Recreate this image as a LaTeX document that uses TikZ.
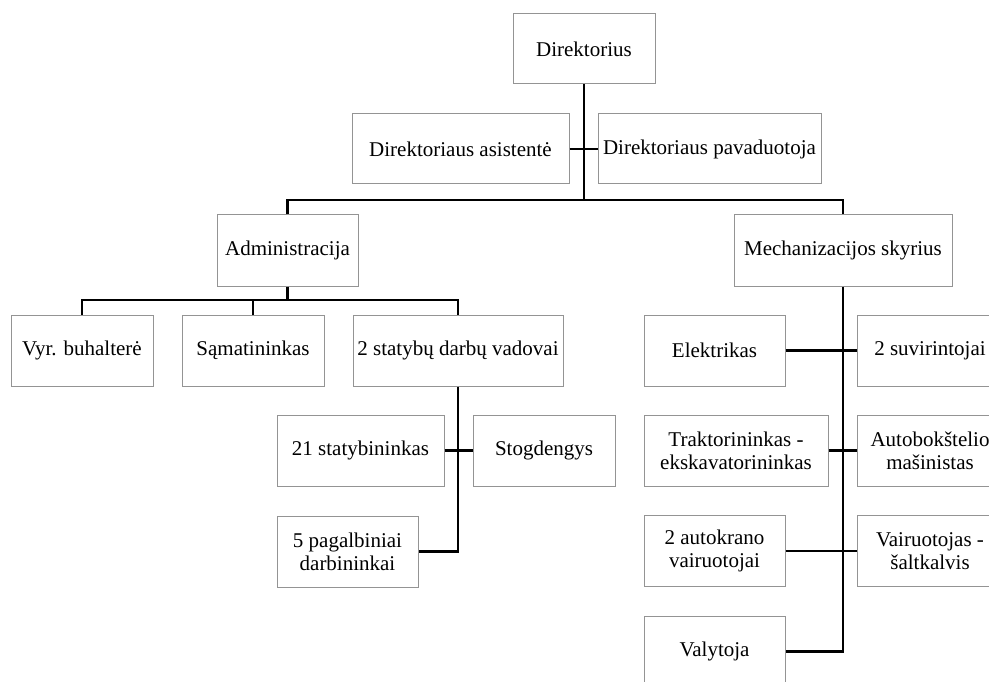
\documentclass[tikz,border=0pt]{standalone}
\usepackage{fontspec}
\setmainfont{Liberation Serif}
\begin{document}
\begin{tikzpicture}[x=1pt,y=-1pt,
  box/.style={draw=black!42, line width=1pt, inner sep=0pt,
    minimum height=71pt, align=center,
    font=\fontsize{21pt}{23pt}\selectfont},
  link/.style={draw=black, line width=2.5pt}]
\useasboundingbox (0,0) rectangle (989,682);
\clip (0,0) rectangle (989,682);

% top management
\node[box, minimum width=142pt, minimum height=70pt] (dir)  at (584,49)    {Direktorius};
\node[box, minimum width=217pt, minimum height=70pt] (asis) at (460.5,149) {Direktoriaus asistentė};
\node[box, minimum width=223pt, minimum height=70pt] (pav)  at (709.5,149) {Direktoriaus pavaduotoja};

% departments
\node[box, minimum width=141pt] (adm)  at (287.5,250.5) {Administracija};
\node[box, minimum width=218pt] (mech) at (843,250.5)   {Mechanizacijos skyrius};

% administration staff
\node[box, minimum width=142pt] (vyr)  at (82,350.5)    {Vyr. buhalterė};
\node[box, minimum width=142pt] (sam)  at (253,350.5)   {Sąmatininkas};
\node[box, minimum width=210pt] (sta)  at (458,350.5)   {2 statybų darbų vadovai};
\node[box, minimum width=167pt] (s21)  at (360.5,450.5) {21 statybininkas};
\node[box, minimum width=142pt] (stog) at (544,450.5)   {Stogdengys};
\node[box, minimum width=141pt] (pag)  at (347.5,551.5) {5 pagalbiniai\\darbininkai};

% mechanisation staff
\node[box, minimum width=141pt] (elek) at (714.5,350.5) {Elektrikas};
\node[box, minimum width=146pt] (suv)  at (930,350.5)   {2 suvirintojai};
\node[box, minimum width=184pt] (trak) at (736,450.5)   {Traktorininkas -\\ekskavatorininkas};
\node[box, minimum width=146pt] (auto) at (930,450.5)   {Autobokštelio\\mašinistas};
\node[box, minimum width=141pt] (auk)  at (714.5,551)   {2 autokrano\\vairuotojai};
\node[box, minimum width=146pt] (vair) at (930,551)     {Vairuotojas -\\šaltkalvis};
\node[box, minimum width=141pt] (val)  at (714.5,651.5) {Valytoja};

% junction points
\coordinate (top)  at (584,200);
\coordinate (admj) at (287.5,300);
\coordinate (staj) at (458,551.5);
\coordinate (mecj) at (843,651.5);

% director level
\draw[link] (dir.south) -- (top);
\draw[link] (asis.east) -- (pav.west);
\draw[link] (adm.north) |- (top) -| (mech.north);

% administration branch
\draw[link] (adm.south) -- (admj);
\draw[link] (vyr.north) |- (admj) -| (sta.north);
\draw[link] (sam.north) -- (sam.north |- admj);
\draw[link] (sta.south) -- (staj) -- (pag.east);
\draw[link] (s21.east) -- (stog.west);

% mechanisation branch
\draw[link] (mech.south) -- (mecj) -- (val.east);
\draw[link] (elek.east) -- (suv.west);
\draw[link] (trak.east) -- (auto.west);
\draw[link] (auk.east) -- (vair.west);
\end{tikzpicture}
\end{document}
